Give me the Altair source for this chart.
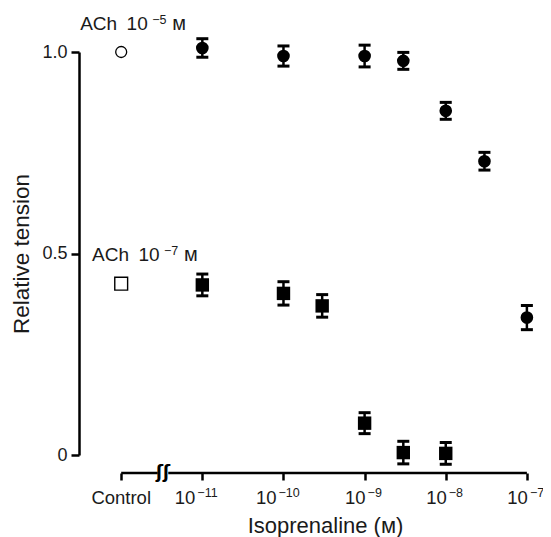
import altair as alt
import pandas as pd

# ACh 1e-5 M (filled circles): log10 isoprenaline, relative tension, error half-width
circ_logx = [-11, -10, -9, -8.523, -8, -7.523, -7]
circ_y = [1.01, 0.99, 0.99, 0.978, 0.854, 0.729, 0.341]
circ_err = [0.023, 0.025, 0.027, 0.021, 0.021, 0.022, 0.03]

# ACh 1e-7 M (filled squares)
sq_logx = [-11, -10, -9.523, -9, -8.523, -8]
sq_y = [0.422, 0.401, 0.37, 0.079, 0.006, 0.004]
sq_err = [0.027, 0.029, 0.028, 0.026, 0.028, 0.027]

# Controls (open symbols)
control_logx = [-12]
control_circle = [1.0]
control_square = [0.425]

tick_values = [-12, -11, -10, -9, -8, -7]
tick_base = ["Control", "10", "10", "10", "10", "10"]
tick_sup = ["", "\u221211", "\u221210", "\u22129", "\u22128", "\u22127"]
y_ticks = [0, 0.5, 1.0]

ann_x = [-12.506, -12.36]
ann_y = [1.055, 0.481]
ann_base = ["ACh\u200210", "ACh\u200210"]
ann_sup = ["\u22125", "\u22127"]
ann_unit = ["ᴍ", "ᴍ"]

# x-axis line (with break) placed just below the plot, and its tick labels
axis_y = -0.0447
label_y = -0.1216
axis_seg_x = [-12, -11.42]
axis_seg_x2 = [-11.55, -7]
break_x = [-11.485]

FONT = "Liberation Sans"
INK = "#1a1a1a"

xscale = alt.Scale(domain=[-12.52, -6.9], nice=False, zero=False)
yscale = alt.Scale(domain=[0, 1], nice=False, zero=False)

xaxis = alt.Axis(values=tick_values, labels=False, domain=False,
                 ticks=True, tickSize=7, tickWidth=2.5, tickColor="black",
                 offset=18, grid=False,
                 title="Isoprenaline (ᴍ)", titleFont=FONT, titleFontSize=22,
                 titleFontWeight="normal", titleColor=INK,
                 titleX=246, titleY=59, titleAlign="center",
                 titleBaseline="alphabetic")
yaxis = alt.Axis(values=y_ticks,
                 labelExpr="datum.value == 0 ? '0' : format(datum.value, '.1f')",
                 domain=True, domainColor="black", domainWidth=2.5,
                 ticks=True, tickSize=8, tickWidth=2.5, tickColor="black",
                 grid=False, labelFont=FONT, labelFontSize=18, labelColor=INK,
                 labelPadding=4,
                 title="Relative tension", titleFont=FONT, titleFontSize=22.5,
                 titleFontWeight="normal", titleColor=INK, titleAngle=-90,
                 titleX=-51, titleY=201.5, titleAlign="center",
                 titleBaseline="alphabetic")


def X(field):
    return alt.X(field, type="quantitative", scale=xscale, axis=xaxis)


def Y(field):
    return alt.Y(field, type="quantitative", scale=yscale, axis=yaxis)


circ = pd.DataFrame({"x": circ_logx, "y": circ_y,
                     "lo": [a - b for a, b in zip(circ_y, circ_err)],
                     "hi": [a + b for a, b in zip(circ_y, circ_err)]})
sq = pd.DataFrame({"x": sq_logx, "y": sq_y,
                   "lo": [a - b for a, b in zip(sq_y, sq_err)],
                   "hi": [a + b for a, b in zip(sq_y, sq_err)]})
errs = pd.concat([circ, sq], ignore_index=True)
ctrl = pd.DataFrame({"x": control_logx, "c": control_circle, "s": control_square})
ann = pd.DataFrame({"x": ann_x, "y": ann_y, "base": ann_base,
                    "sup": ann_sup, "unit": ann_unit})
axl = pd.DataFrame({"x": axis_seg_x, "x2": axis_seg_x2, "y": [axis_y] * 2})
brk = pd.DataFrame({"x": break_x, "y": [axis_y]})
tl = pd.DataFrame({"x": tick_values, "y": [label_y] * len(tick_values),
                   "base": tick_base, "sup": tick_sup})

err_rule = alt.Chart(errs).mark_rule(color="black", strokeWidth=2.5).encode(
    x=X("x"), y=Y("lo"), y2="hi")
cap_lo = alt.Chart(errs).mark_tick(orient="horizontal", color="black",
                                   size=12, thickness=3, opacity=1).encode(
    x=X("x"), y=Y("lo"))
cap_hi = alt.Chart(errs).mark_tick(orient="horizontal", color="black",
                                   size=12, thickness=3, opacity=1).encode(
    x=X("x"), y=Y("hi"))
pts_c = alt.Chart(circ).mark_point(shape="circle", filled=True, size=160,
                                   color="black", opacity=1).encode(
    x=X("x"), y=Y("y"))
pts_s = alt.Chart(sq).mark_point(shape="square", filled=True, size=180,
                                 color="black", opacity=1).encode(
    x=X("x"), y=Y("y"))
ctrl_c = alt.Chart(ctrl).mark_point(shape="circle", filled=False, size=120,
                                    color="black", strokeWidth=1.3,
                                    opacity=1).encode(x=X("x"), y=Y("c"))
ctrl_s = alt.Chart(ctrl).mark_point(shape="square", filled=False, size=165,
                                    color="black", strokeWidth=1.4,
                                    opacity=1).encode(x=X("x"), y=Y("s"))
ann_b = alt.Chart(ann).mark_text(align="left", baseline="alphabetic", font=FONT,
                                 fontSize=19, color=INK).encode(
    x=X("x"), y=Y("y"), text="base:N")
ann_s = alt.Chart(ann).mark_text(align="left", baseline="alphabetic", font=FONT,
                                 fontSize=12.5, color=INK, dx=72, dy=-6).encode(
    x=X("x"), y=Y("y"), text="sup:N")
ann_u = alt.Chart(ann).mark_text(align="left", baseline="alphabetic", font=FONT,
                                 fontSize=20, color=INK, dx=92).encode(
    x=X("x"), y=Y("y"), text="unit:N")
axis_line = alt.Chart(axl).mark_rule(color="black", strokeWidth=2.5).encode(
    x=X("x"), x2="x2", y=Y("y"))
brk_t = alt.Chart(brk).mark_text(text="ʃʃ", font="DejaVu Sans", fontSize=17,
                                 fontWeight="bold", color="black",
                                 baseline="middle", align="center").encode(
    x=X("x"), y=Y("y"))

# tick labels: "Control" centred, "10" + superscript exponent
tick_ctrl = alt.Chart(tl).transform_filter("datum.sup == ''").mark_text(
    align="center", baseline="alphabetic", font=FONT, fontSize=18.5,
    color=INK).encode(x=X("x"), y=Y("y"), text="base:N")
tick_b1 = alt.Chart(tl).transform_filter("length(datum.sup) == 2").mark_text(
    align="right", baseline="alphabetic", font=FONT, fontSize=18.5,
    color=INK, dx=1).encode(x=X("x"), y=Y("y"), text="base:N")
tick_s1 = alt.Chart(tl).transform_filter("length(datum.sup) == 2").mark_text(
    align="left", baseline="alphabetic", font=FONT, fontSize=12.5,
    color=INK, dx=3, dy=-7).encode(x=X("x"), y=Y("y"), text="sup:N")
tick_b2 = alt.Chart(tl).transform_filter("length(datum.sup) == 3").mark_text(
    align="right", baseline="alphabetic", font=FONT, fontSize=18.5,
    color=INK, dx=-7).encode(x=X("x"), y=Y("y"), text="base:N")
tick_s2 = alt.Chart(tl).transform_filter("length(datum.sup) == 3").mark_text(
    align="left", baseline="alphabetic", font=FONT, fontSize=12.5,
    color=INK, dx=-5, dy=-7).encode(x=X("x"), y=Y("y"), text="sup:N")

chart = alt.layer(err_rule, cap_lo, cap_hi, pts_c, pts_s, ctrl_c, ctrl_s,
                  ann_b, ann_s, ann_u, axis_line, brk_t,
                  tick_ctrl, tick_b1, tick_s1, tick_b2, tick_s2).properties(
    width=456, height=403,
    autosize=alt.AutoSizeParams(type="none"),
    padding={"left": 71, "top": 44, "right": 8, "bottom": 84},
    background="white",
).configure_view(stroke=None)

chart.save("out.html", embed_options={"renderer": "svg", "actions": False})
